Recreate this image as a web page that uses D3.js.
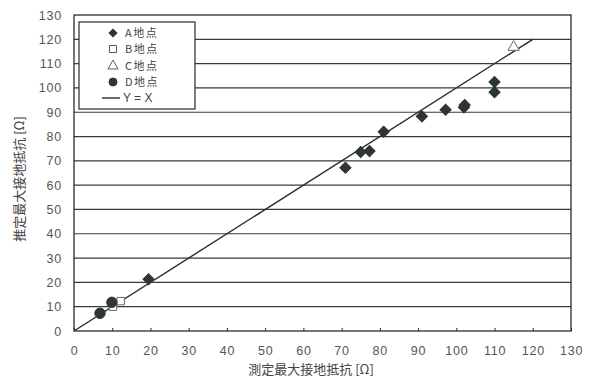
<!DOCTYPE html>
<html><head><meta charset="utf-8">
<script src="https://cdn.jsdelivr.net/npm/d3@7"></script>
<style>
body{margin:0;background:#fff;}
text{font-family:"Liberation Sans","DejaVu Sans",sans-serif;}
</style></head>
<body><svg id="c" width="591" height="378"></svg>
<script>
const xTicks = [0,10,20,30,40,50,60,70,80,90,100,110,120,130];
const yTicks = [0,10,20,30,40,50,60,70,80,90,100,110,120,130];
const seriesNames = ["A地点","B地点","C地点","D地点"];
const seriesA = [[19.5,21.3],[71,67.2],[75,73.6],[77.3,74],[81,82],[91,88.3],[97.2,91],[102,92],[102.2,93],[110,98.2],[110,102.4]];
const seriesB = [[10.2,10],[12.2,12.3]];
const seriesC = [[115,116.8]];
const seriesD = [[6.8,7.3],[9.9,11.8]];
const lineYX = [[0,0],[120,120]];
const xTitle = "測定最大接地抵抗 [Ω]";
const yTitle = "推定最大接地抵抗 [Ω]";

const svg = d3.select("#c");
const L=74,R=571,T=15,B=331;
const x = d3.scaleLinear().domain([0,130]).range([L,R]);
const y = d3.scaleLinear().domain([0,130]).range([B,T]);
const ink="#2b2b2b";

svg.append("g").selectAll("line").data(yTicks.slice(1,-1)).join("line")
 .attr("x1",L).attr("x2",R).attr("y1",d=>y(d)).attr("y2",d=>y(d))
 .attr("stroke","#3a3a3a").attr("stroke-width",1.2);
svg.append("rect").attr("x",L).attr("y",T).attr("width",R-L).attr("height",B-T)
 .attr("fill","none").attr("stroke",ink).attr("stroke-width",1.3);

const xa = svg.append("g").attr("transform",`translate(0,${B})`)
 .call(d3.axisBottom(x).tickValues(xTicks).tickSize(-3).tickPadding(15));
const ya = svg.append("g").attr("transform",`translate(${L},0)`)
 .call(d3.axisLeft(y).tickValues(yTicks).tickSize(0).tickPadding(12));
[xa,ya].forEach(a=>{
 a.select(".domain").remove();
 a.selectAll("line").attr("stroke",ink);
 a.selectAll("text").attr("font-size",12.5).attr("fill","#555").style("letter-spacing","0.8px");
});

svg.append("path").datum(lineYX).attr("d",d3.line().x(d=>x(d[0])).y(d=>y(d[1])))
 .attr("stroke",ink).attr("stroke-width",1.4).attr("fill","none");

const sym = {
 A: d3.symbol().type(d3.symbolSquare).size(62),
 B: d3.symbol().type(d3.symbolSquare).size(55),
 C: d3.symbol().type(d3.symbolTriangle).size(55),
 D: d3.symbol().type(d3.symbolCircle).size(85)
};
const rot = {A:45,B:0,C:0,D:0};
function draw(data,k,filled){
 svg.append("g").selectAll("path").data(data).join("path")
  .attr("transform",d=>`translate(${x(d[0])},${y(d[1])}) rotate(${rot[k]})`)
  .attr("d",sym[k]).attr("fill",filled?"#2e3536":"#fff")
  .attr("stroke",filled?"#2e3536":"#666").attr("stroke-width",1);
}
draw(seriesB,"B",false);
draw(seriesC,"C",false);
draw(seriesD,"D",true);
draw(seriesA,"A",true);

const lg = svg.append("g");
lg.append("rect").attr("x",79).attr("y",22).attr("width",116).attr("height",87)
 .attr("fill","#fff").attr("stroke",ink).attr("stroke-width",1.2);
const legY=[33,49,66,82];
const legKeys=["A","B","C","D"];
const legFill=[true,false,false,true];
const legSym = {
 A: d3.symbol().type(d3.symbolSquare).size(30),
 B: d3.symbol().type(d3.symbolSquare).size(50),
 C: d3.symbol().type(d3.symbolTriangle).size(45),
 D: d3.symbol().type(d3.symbolCircle).size(50)
};
seriesNames.forEach((n,i)=>{
 const k=legKeys[i];
 lg.append("path").attr("transform",`translate(113,${legY[i]}) rotate(${rot[k]})`).attr("d",legSym[k])
  .attr("fill",legFill[i]?"#2e3536":"#fff").attr("stroke",legFill[i]?"#2e3536":"#555");
 lg.append("text").attr("x",125).attr("y",legY[i]+4).text(n)
  .attr("font-size",11).attr("fill","#444").style("letter-spacing","1.5px")
  .style("font-family","'Noto Sans CJK JP',sans-serif");
});
lg.append("line").attr("x1",102).attr("x2",120).attr("y1",98).attr("y2",98).attr("stroke",ink).attr("stroke-width",1.4);
lg.append("text").attr("x",123).attr("y",102).text("Y = X").attr("font-size",12).attr("fill","#444");

svg.append("text").attr("x",311).attr("y",374).attr("text-anchor","middle")
 .attr("font-size",13).attr("fill","#444").style("font-family","'Noto Sans CJK JP',sans-serif").text(xTitle);
svg.append("text").attr("transform","translate(24,179) rotate(-90)").attr("text-anchor","middle")
 .attr("font-size",13).attr("fill","#444").style("font-family","'Noto Sans CJK JP',sans-serif").text(yTitle);
</script></body></html>
